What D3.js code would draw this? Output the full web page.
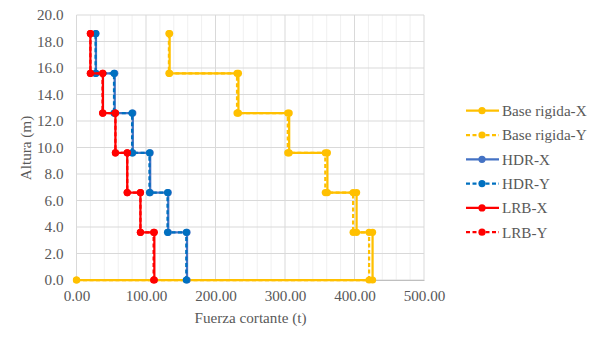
<!DOCTYPE html>
<html>
<head>
<meta charset="utf-8">
<script src="https://cdn.jsdelivr.net/npm/d3@7"></script>
<style>
  html, body { margin: 0; padding: 0; background: #fff; }
  svg { display: block; }
</style>
</head>
<body>
<svg id="chart" width="600" height="343"></svg>
<script>
// Floor levels (m)
const levels = [0, 3.6, 6.6, 9.6, 12.6, 15.6, 18.6];

// Story shear (t), one value per story, from the base upward
const baseRigidaX = [426, 403, 361, 306, 233, 134];
const baseRigidaY = [421, 398, 358, 304, 231, 133];
const hdrX = [159, 132, 106, 81, 55, 28];
const hdrY = [158, 131, 105, 80, 54, 27.5];
const lrbX = [112, 92, 73, 56, 38, 20];
const lrbY = [111, 92, 73, 56, 37.5, 20];

const seriesNames = ["Base rigida-X", "Base rigida-Y", "HDR-X", "HDR-Y", "LRB-X", "LRB-Y"];
const xTicks = [0, 100, 200, 300, 400, 500];
const yTicks = [0, 2, 4, 6, 8, 10, 12, 14, 16, 18, 20];

const FONT = "'Liberation Serif', 'DejaVu Serif', serif";
const TEXT_COLOR = "#595959";

const svg = d3.select("#chart");

// Size the serif face so the x-axis title spans about 112 px
const probe = svg.append("text").attr("font-family", FONT).attr("font-size", 15)
  .text("Fuerza cortante (t)");
const probeW = probe.node().getComputedTextLength() || 112;
probe.remove();
const FS = Math.max(11, Math.min(16, 15 * 112 / probeW));

// Step profile: horizontal at each floor, vertical over each story
function stepProfile(shears, fromOrigin) {
  const pts = fromOrigin ? [[0, levels[0]]] : [];
  shears.forEach((v, i) => {
    pts.push([v, levels[i]]);
    pts.push([v, levels[i + 1]]);
  });
  return pts;
}

const series = [
  { name: seriesNames[0], pts: stepProfile(baseRigidaX, true),  color: "#FFC000", dash: null },
  { name: seriesNames[1], pts: stepProfile(baseRigidaY, true),  color: "#FFC000", dash: "4,2.5" },
  { name: seriesNames[2], pts: stepProfile(hdrX, false),        color: "#4472C4", dash: null },
  { name: seriesNames[3], pts: stepProfile(hdrY, false),        color: "#0070C0", dash: "4,2.5" },
  { name: seriesNames[4], pts: stepProfile(lrbX, false),        color: "#FF0000", dash: null },
  { name: seriesNames[5], pts: stepProfile(lrbY, false),        color: "#FF0000", dash: "4,2.5" }
];

const plot = { left: 76.5, right: 424, top: 15, bottom: 280 };

const x = d3.scaleLinear().domain([0, 500]).range([plot.left, plot.right]);
const y = d3.scaleLinear().domain([0, 20]).range([plot.bottom, plot.top]);

// Minor vertical gridlines every 20 t
const grid = svg.append("g");
grid.selectAll("line.minor")
  .data(d3.range(0, 501, 20).filter(v => v % 100 !== 0))
  .enter().append("line")
  .attr("x1", d => x(d)).attr("x2", d => x(d))
  .attr("y1", plot.top).attr("y2", plot.bottom)
  .attr("stroke", "#f0f0f0").attr("stroke-width", 1);

// Major gridlines
grid.selectAll("line.hmaj")
  .data(yTicks)
  .enter().append("line")
  .attr("x1", plot.left).attr("x2", plot.right)
  .attr("y1", d => y(d)).attr("y2", d => y(d))
  .attr("stroke", "#d9d9d9").attr("stroke-width", 1);
grid.selectAll("line.vmaj")
  .data(xTicks)
  .enter().append("line")
  .attr("x1", d => x(d)).attr("x2", d => x(d))
  .attr("y1", plot.top).attr("y2", plot.bottom)
  .attr("stroke", "#d9d9d9").attr("stroke-width", 1);

// Axes
const xAxis = svg.append("g")
  .attr("transform", `translate(0,${plot.bottom})`)
  .call(d3.axisBottom(x).tickValues(xTicks).tickSize(0).tickPadding(10)
    .tickFormat(d => d3.format(".2f")(d)));
xAxis.attr("font-family", FONT).attr("font-size", FS);
xAxis.select(".domain").attr("stroke", "#bfbfbf");
xAxis.selectAll("text").attr("fill", TEXT_COLOR);

const yAxis = svg.append("g")
  .attr("transform", `translate(${plot.left},0)`)
  .call(d3.axisLeft(y).tickValues(yTicks).tickSize(0).tickPadding(13)
    .tickFormat(d => d3.format(".1f")(d)));
yAxis.attr("font-family", FONT).attr("font-size", FS);
yAxis.select(".domain").remove();
yAxis.selectAll("text").attr("fill", TEXT_COLOR);

// Axis titles
svg.append("text")
  .attr("x", 250.5).attr("y", 323)
  .attr("text-anchor", "middle")
  .attr("font-family", FONT).attr("font-size", FS).attr("fill", TEXT_COLOR)
  .text("Fuerza cortante (t)");
svg.append("text")
  .attr("transform", "translate(31,148) rotate(-90)")
  .attr("text-anchor", "middle")
  .attr("font-family", FONT).attr("font-size", FS).attr("fill", TEXT_COLOR)
  .text("Altura (m)");

// Series lines and markers
const line = d3.line().x(d => x(d[0])).y(d => y(d[1]));
const marks = svg.append("g");
series.forEach(s => {
  const g = marks.append("g");
  g.append("path")
    .datum(s.pts)
    .attr("d", line)
    .attr("fill", "none")
    .attr("stroke", s.color)
    .attr("stroke-width", 2.25)
    .attr("stroke-dasharray", s.dash);
  g.selectAll("circle")
    .data(s.pts)
    .enter().append("circle")
    .attr("cx", d => x(d[0])).attr("cy", d => y(d[1]))
    .attr("r", 3.6)
    .attr("fill", s.color);
});

// Legend
const legend = svg.append("g");
series.forEach((s, i) => {
  const ly = 110.7 + i * 24.3;
  const g = legend.append("g").attr("transform", `translate(0,${ly})`);
  g.append("line")
    .attr("x1", 466).attr("x2", 499).attr("y1", 0).attr("y2", 0)
    .attr("stroke", s.color).attr("stroke-width", 2.25)
    .attr("stroke-dasharray", s.dash);
  g.append("circle").attr("cx", 482).attr("cy", 0).attr("r", 3.6).attr("fill", s.color);
  g.append("text")
    .attr("x", 502).attr("y", 0).attr("dy", "0.35em")
    .attr("font-family", FONT).attr("font-size", FS).attr("fill", TEXT_COLOR)
    .text(s.name);
});
</script>
</body>
</html>
